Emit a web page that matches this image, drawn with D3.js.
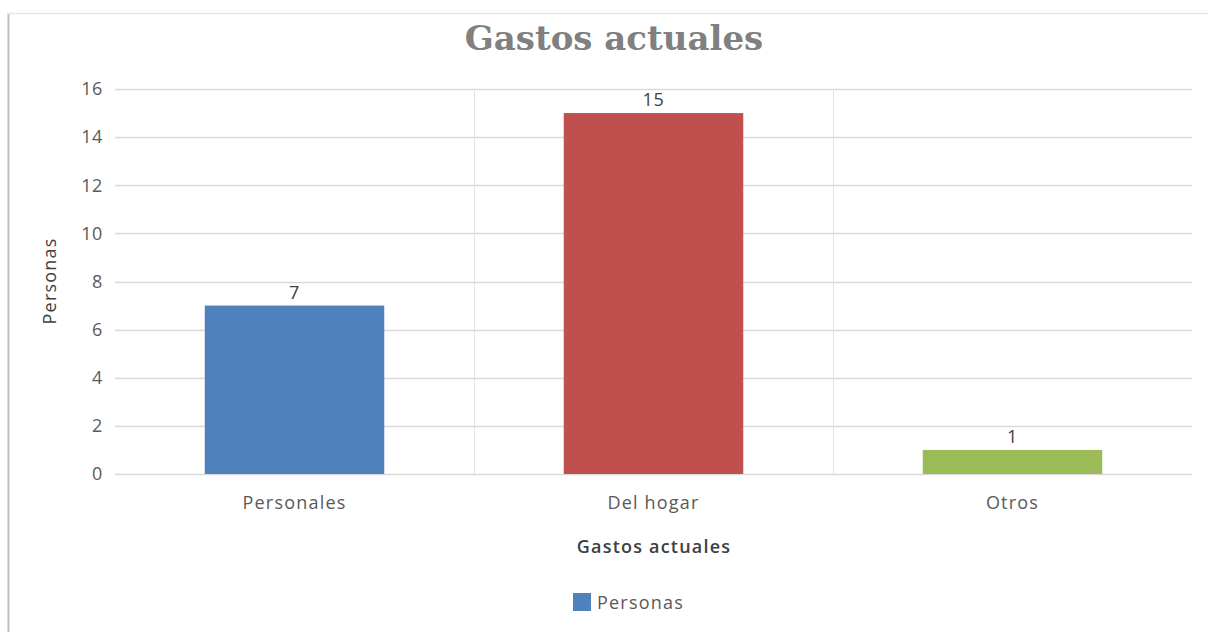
<!DOCTYPE html>
<html>
<head>
<meta charset="utf-8">
<script src="https://cdn.jsdelivr.net/npm/d3@7"></script>
<style>
  body { margin: 0; background: #fff; }
  svg { display: block; }
</style>
</head>
<body>
<div id="chart"></div>
<script>
// chart values
const categories = ["Personales", "Del hogar", "Otros"];
const personas = [7, 15, 1];
const barColors = ["#4f81bd", "#c0504d", "#9bbb59"];
const yTicks = [0, 2, 4, 6, 8, 10, 12, 14, 16];

const width = 1208, height = 632;
const margin = { top: 89, right: 16, bottom: 158, left: 115 };
const font = "'Open Sans', sans-serif";
const spacing = 1.2;

const svg = d3.select("#chart").append("svg")
    .attr("width", width)
    .attr("height", height);

// chart frame (left and top edges visible)
svg.append("line").attr("x1", 8.5).attr("x2", 8.5).attr("y1", 13).attr("y2", height)
    .attr("stroke", "#bfbfbf").attr("stroke-width", 2);
svg.append("line").attr("x1", 8).attr("x2", width).attr("y1", 13.5).attr("y2", 13.5)
    .attr("stroke", "#e6e6e6").attr("stroke-width", 1.5);

const x = d3.scaleBand()
    .domain(categories)
    .range([margin.left, width - margin.right])
    .paddingInner(0)
    .paddingOuter(0);

const y = d3.scaleLinear()
    .domain([0, 16])
    .range([height - margin.bottom, margin.top]);

// horizontal gridlines
svg.append("g")
    .selectAll("line")
    .data(yTicks)
    .join("line")
    .attr("x1", margin.left)
    .attr("x2", width - margin.right)
    .attr("y1", d => Math.round(y(d)) + 0.5)
    .attr("y2", d => Math.round(y(d)) + 0.5)
    .attr("stroke", "#d9d9d9")
    .attr("stroke-width", 1.5);

// vertical separators between categories
svg.append("g")
    .selectAll("line")
    .data(categories.slice(1))
    .join("line")
    .attr("x1", d => Math.round(x(d)) + 0.5)
    .attr("x2", d => Math.round(x(d)) + 0.5)
    .attr("y1", margin.top)
    .attr("y2", y(0))
    .attr("stroke", "#e3e3e3")
    .attr("stroke-width", 1);

// y axis labels
const yAxis = d3.axisLeft(y).tickValues(yTicks).tickSize(0).tickPadding(12);
svg.append("g")
    .attr("transform", `translate(${margin.left},0)`)
    .call(yAxis)
    .call(g => g.select(".domain").remove())
    .call(g => g.selectAll("text")
        .attr("font-family", font)
        .attr("font-size", 18)
        .attr("letter-spacing", 0.6)
        .attr("fill", "#595959"));

// x axis labels
const xAxis = d3.axisBottom(x).tickSize(0).tickPadding(22);
svg.append("g")
    .attr("transform", `translate(0,${y(0)})`)
    .call(xAxis)
    .call(g => g.select(".domain").remove())
    .call(g => g.selectAll("text")
        .attr("font-family", font)
        .attr("font-size", 18)
        .attr("letter-spacing", spacing)
        .attr("fill", "#595959"));

// bars
const barW = x.bandwidth() * 0.5;
svg.append("g")
    .selectAll("rect")
    .data(personas)
    .join("rect")
    .attr("x", (d, i) => x(categories[i]) + (x.bandwidth() - barW) / 2)
    .attr("y", d => y(d))
    .attr("width", barW)
    .attr("height", d => y(0) - y(d))
    .attr("fill", (d, i) => barColors[i]);

// value labels
svg.append("g")
    .selectAll("text")
    .data(personas)
    .join("text")
    .attr("x", (d, i) => x(categories[i]) + x.bandwidth() / 2)
    .attr("y", d => y(d) - 7)
    .attr("text-anchor", "middle")
    .attr("font-family", font)
    .attr("font-size", 18)
    .attr("letter-spacing", 0.6)
    .attr("fill", "#404040")
    .text(d => d);

// title
svg.append("text")
    .attr("x", 614)
    .attr("y", 50)
    .attr("text-anchor", "middle")
    .attr("font-family", "'DejaVu Serif', serif")
    .attr("font-weight", "bold")
    .attr("font-size", 34)
    .attr("fill", "#808080")
    .text("Gastos actuales");

// axis titles
svg.append("text")
    .attr("transform", "translate(56,281) rotate(-90)")
    .attr("text-anchor", "middle")
    .attr("font-family", font)
    .attr("font-size", 18)
    .attr("font-weight", 500)
    .attr("letter-spacing", spacing)
    .attr("fill", "#404040")
    .text("Personas");

svg.append("text")
    .attr("x", 654)
    .attr("y", 553)
    .attr("text-anchor", "middle")
    .attr("font-family", font)
    .attr("font-size", 18)
    .attr("font-weight", 600)
    .attr("letter-spacing", spacing)
    .attr("fill", "#404040")
    .text("Gastos actuales");

// legend
const legend = svg.append("g").attr("transform", "translate(573,593)");
legend.append("rect").attr("width", 18).attr("height", 18).attr("fill", barColors[0]);
legend.append("text")
    .attr("x", 24)
    .attr("y", 16)
    .attr("font-family", font)
    .attr("font-size", 18)
    .attr("letter-spacing", spacing)
    .attr("fill", "#595959")
    .text("Personas");
</script>
</body>
</html>
